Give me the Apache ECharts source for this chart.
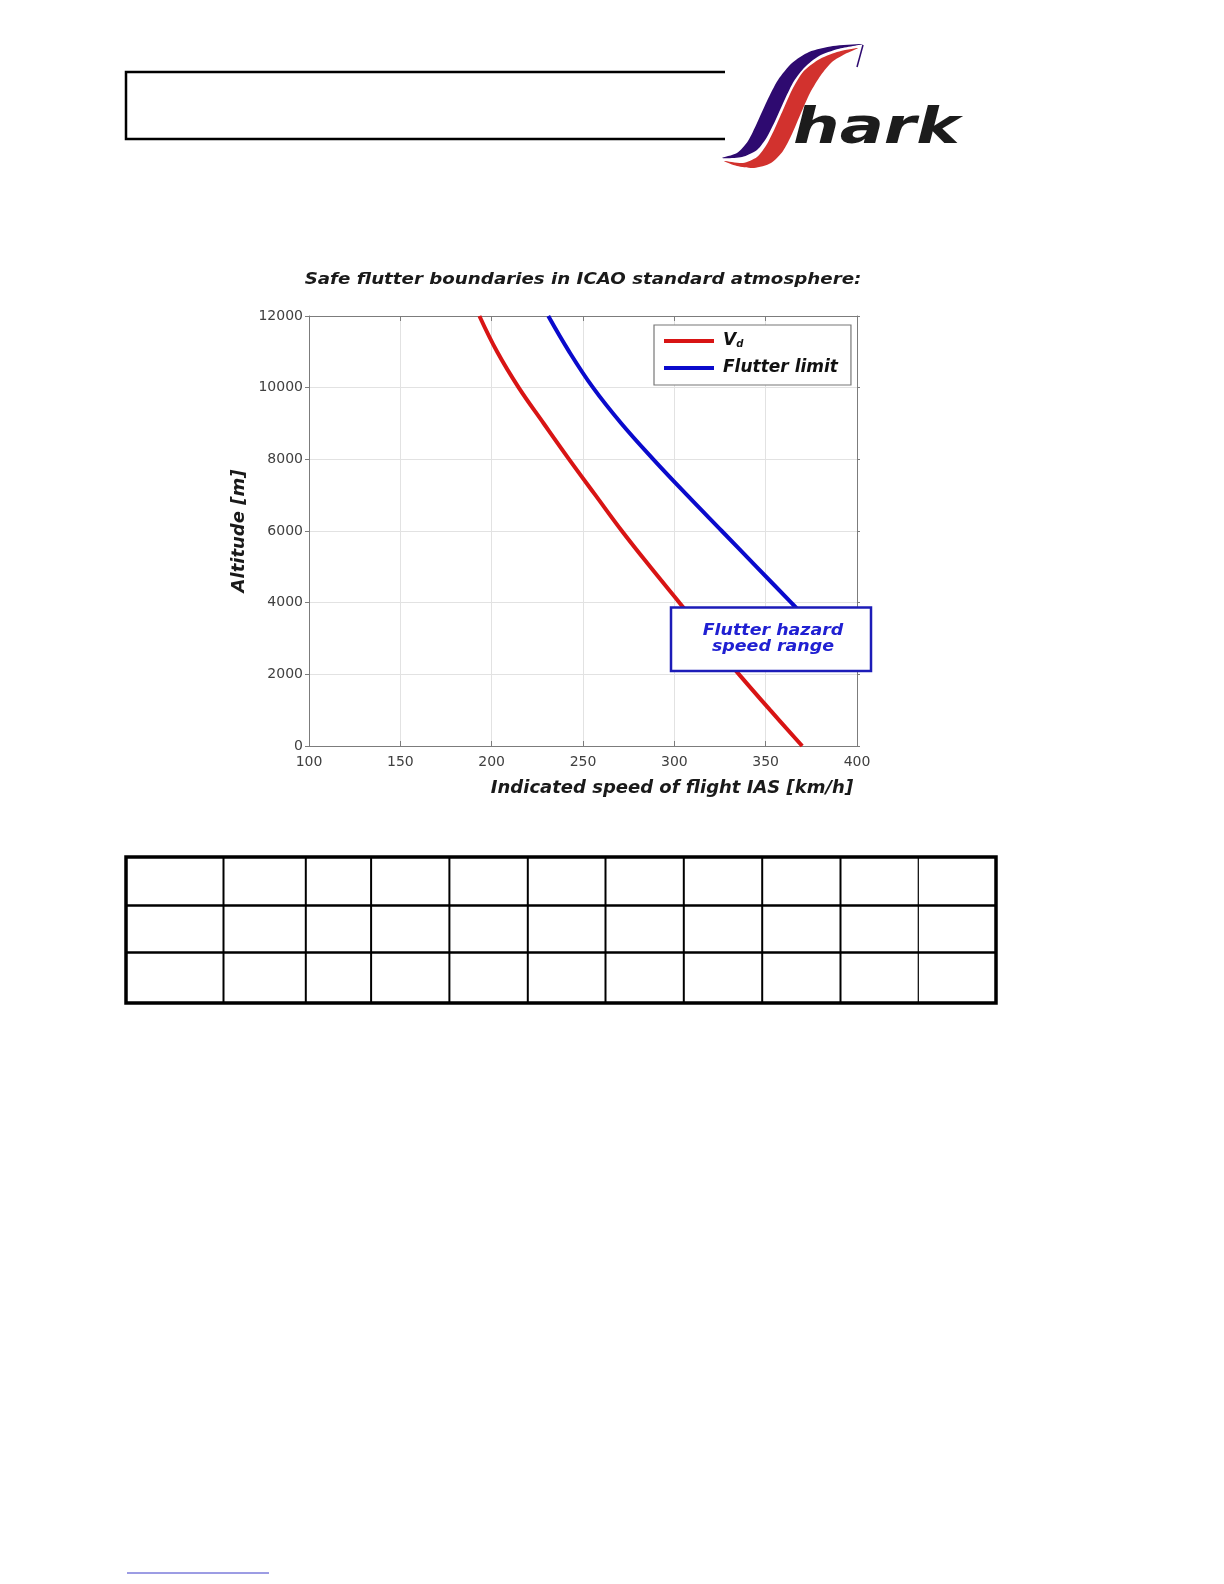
<!DOCTYPE html>
<html>
<head>
<meta charset="utf-8">
<title>Safe flutter boundaries</title>
<script src="https://cdn.jsdelivr.net/npm/echarts@6/dist/echarts.min.js"></script>
<style>
  html, body { margin: 0; padding: 0; background: #ffffff; overflow: hidden; }
  #chart { width: 1224px; height: 1584px; }
</style>
</head>
<body>
<div id="chart"></div>
<script>
// Design speed Vd (IAS, km/h) against altitude (m)
const vdAltitude = [0, 1000, 2000, 3000, 4000, 5000, 6000, 7000, 8000, 9000, 10000, 11000, 12000];
const vdSpeed = [370, 352.5, 335.4, 318.8, 302.8, 286.8, 271.3, 256.8, 242.4, 228.5, 214.8, 203, 193.3];

// Flutter limit (IAS, km/h) against altitude (m)
const flutterAltitude = [3800, 4000, 5000, 6000, 7000, 8000, 9000, 10000, 11000, 12000];
const flutterSpeed = [367.8, 364, 345, 326, 307, 288.5, 271, 255.5, 242.5, 231];

const seriesNames = ['Vd', 'Flutter limit'];
const chartTitle = 'Safe flutter boundaries in ICAO standard atmosphere:';
const xAxisName = 'Indicated speed of flight IAS [km/h]';
const yAxisName = 'Altitude [m]';
const hazardLines = ['Flutter hazard', 'speed range'];

const speedRange = { min: 100, max: 400, step: 50 };
const altitudeRange = { min: 0, max: 12000, step: 2000 };

const toPairs = (alts, speeds) => alts.map((a, i) => [speeds[i], a]);

const font = (size) => 'italic bold ' + size + 'px "DejaVu Sans"';

const axisGray = '#7c7c7c';
const gridGray = '#e2e2e2';
const labelGray = '#404040';

// Logo swoosh outlines (page pixels)
const swooshPurple = [
  [722, 158], [737, 153], [748, 141], [757, 123], [767, 101], [778, 80], [792, 63], [809, 52], [833, 46], [863, 44],
  [838, 49], [819, 56], [805, 67], [794, 81], [785, 99], [776, 119], [767, 137], [757, 150], [742, 157]
];
const swooshRed = [
  [724, 161], [743, 163], [757, 157], [767, 144], [775, 128], [783, 110], [792, 90], [803, 72], [818, 60], [837, 52], [858, 48],
  [845, 54], [832, 62], [821, 75], [810, 93], [801, 113], [792, 134], [783, 151], [771, 163], [754, 168], [737, 166]
];

const chart = echarts.init(document.getElementById('chart'), null, { renderer: 'canvas', width: 1224, height: 1584 });

// Page furniture: header frame, logo, footnote rule
const headerAndPage = [
  {
    type: 'polyline', z: 1,
    shape: { points: [[725, 72], [126, 72], [126, 139], [725, 139]] },
    style: { stroke: '#000', lineWidth: 2.5, fill: null }
  },
  {
    type: 'polygon', z: 1,
    shape: { points: swooshPurple, smooth: 0.25 },
    style: { fill: '#2e0a70' }
  },
  {
    type: 'line', z: 1,
    shape: { x1: 863, y1: 45, x2: 857, y2: 67 },
    style: { stroke: '#2e0a70', lineWidth: 1.5 }
  },
  {
    type: 'polygon', z: 1,
    shape: { points: swooshRed, smooth: 0.25 },
    style: { fill: '#d2322e' }
  },
  {
    type: 'text', z: 2, x: 793, y: 105, scaleX: 1.31,
    style: { x: 0, y: 0, text: 'hark', font: 'italic bold 50px "DejaVu Sans"', fill: '#1c1c1c', textAlign: 'left', textVerticalAlign: 'top' }
  },
  {
    type: 'line', z: 1,
    shape: { x1: 127, y1: 1573, x2: 269, y2: 1573 },
    style: { stroke: '#3a3ac8', lineWidth: 1 }
  }
];

// Table grid below the chart
const tableCols = [223.5, 305.8, 371.1, 449.4, 527.8, 605.5, 683.8, 762.2, 840.5, 918.3];
const tableRows = [905.5, 952.5];
const tableBox = { x: 126, y: 857, w: 870, h: 146 };
const tableElements = [
  {
    type: 'rect', z: 1,
    shape: { x: tableBox.x, y: tableBox.y, width: tableBox.w, height: tableBox.h },
    style: { fill: null, stroke: '#000', lineWidth: 3.5 }
  }
];
tableRows.forEach((y) => tableElements.push({
  type: 'line', z: 1,
  shape: { x1: tableBox.x, y1: y, x2: tableBox.x + tableBox.w, y2: y },
  style: { stroke: '#000', lineWidth: 2.5 }
}));
tableCols.forEach((x, i) => tableElements.push({
  type: 'line', z: 1,
  shape: { x1: x, y1: tableBox.y, x2: x, y2: tableBox.y + tableBox.h },
  style: { stroke: '#000', lineWidth: i === tableCols.length - 1 ? 1.2 : 2 }
}));

// Annotation box marking the flutter hazard speed range
const hazardElements = [
  {
    type: 'rect', z: 100,
    shape: { x: 671, y: 607.5, width: 200, height: 63.5 },
    style: { fill: '#ffffff', stroke: '#1c1cb8', lineWidth: 2.5 }
  },
  {
    type: 'text', z: 101, x: 773, y: 631, scaleX: 1.09,
    style: { x: 0, y: 0, text: hazardLines[0], font: font(16), fill: '#2020d2', textAlign: 'center', textVerticalAlign: 'middle' }
  },
  {
    type: 'text', z: 101, x: 773, y: 647, scaleX: 1.09,
    style: { x: 0, y: 0, text: hazardLines[1], font: font(16), fill: '#2020d2', textAlign: 'center', textVerticalAlign: 'middle' }
  }
];

const titleElement = {
  type: 'text', z: 5, x: 583, y: 279.5, scaleX: 1.14,
  style: { x: 0, y: 0, text: chartTitle, font: font(16), fill: '#1a1a1a', textAlign: 'center', textVerticalAlign: 'middle' }
};

const plainNumber = (v) => String(v);

const option = {
  animation: false,
  backgroundColor: '#ffffff',
  grid: { left: 309, top: 316, width: 548, height: 430, containLabel: false },
  legend: {
    orient: 'vertical',
    left: 654, top: 325,
    padding: [7, 13, 8, 10],
    itemWidth: 50, itemHeight: 4, itemGap: 9,
    icon: 'rect',
    backgroundColor: '#ffffff',
    borderColor: '#777777', borderWidth: 1.2,
    data: seriesNames,
    formatter: (name) => (name === 'Vd' ? '{v|V}{s|d}' : name),
    textStyle: {
      fontFamily: 'DejaVu Sans', fontStyle: 'italic', fontWeight: 'bold', fontSize: 17,
      color: '#111111', lineHeight: 18, padding: [0, 0, 0, 4],
      rich: {
        v: { fontFamily: 'DejaVu Sans', fontStyle: 'italic', fontWeight: 'bold', fontSize: 17, color: '#111111', lineHeight: 18 },
        s: { fontFamily: 'DejaVu Sans', fontStyle: 'italic', fontWeight: 'bold', fontSize: 10, color: '#111111', lineHeight: 18, padding: [7, 0, 0, 0] }
      }
    }
  },
  xAxis: [
    {
      type: 'value', position: 'bottom',
      min: speedRange.min, max: speedRange.max, interval: speedRange.step,
      name: xAxisName, nameLocation: 'middle', nameGap: 33.5,
      nameTextStyle: { fontFamily: 'DejaVu Sans', fontStyle: 'italic', fontWeight: 'bold', fontSize: 18, color: '#1a1a1a', lineHeight: 18, padding: [0, 0, 0, 178] },
      axisLine: { show: true, lineStyle: { color: axisGray, width: 1 } },
      axisTick: { show: true, inside: true, length: 5, lineStyle: { color: axisGray } },
      axisLabel: { fontFamily: 'DejaVu Sans', fontSize: 14, color: labelGray, margin: 9, formatter: plainNumber },
      splitLine: { show: true, lineStyle: { color: gridGray, width: 1 } }
    },
    {
      type: 'value', position: 'top',
      min: speedRange.min, max: speedRange.max, interval: speedRange.step,
      axisLine: { show: true, onZero: false, lineStyle: { color: axisGray, width: 1 } },
      axisTick: { show: true, inside: true, length: 5, lineStyle: { color: axisGray } },
      axisLabel: { show: false },
      splitLine: { show: false }
    }
  ],
  yAxis: [
    {
      type: 'value', position: 'left',
      min: altitudeRange.min, max: altitudeRange.max, interval: altitudeRange.step,
      name: yAxisName, nameLocation: 'middle', nameGap: 61, nameRotate: 90,
      nameTextStyle: { fontFamily: 'DejaVu Sans', fontStyle: 'italic', fontWeight: 'bold', fontSize: 18, color: '#1a1a1a', lineHeight: 18 },
      axisLine: { show: true, onZero: false, lineStyle: { color: axisGray, width: 1 } },
      axisTick: { show: true, inside: false, length: 4, lineStyle: { color: axisGray } },
      axisLabel: { fontFamily: 'DejaVu Sans', fontSize: 14, color: labelGray, margin: 6, formatter: plainNumber },
      splitLine: { show: true, lineStyle: { color: gridGray, width: 1 } }
    },
    {
      type: 'value', position: 'right',
      min: altitudeRange.min, max: altitudeRange.max, interval: altitudeRange.step,
      axisLine: { show: true, onZero: false, lineStyle: { color: axisGray, width: 1 } },
      axisTick: { show: true, inside: false, length: 3, lineStyle: { color: axisGray } },
      axisLabel: { show: false },
      splitLine: { show: false }
    }
  ],
  series: [
    {
      name: seriesNames[0], type: 'line',
      xAxisIndex: 0, yAxisIndex: 0,
      data: toPairs(vdAltitude, vdSpeed),
      smooth: 0.4, showSymbol: false, symbol: 'none',
      lineStyle: { color: '#d81414', width: 4 },
      itemStyle: { color: '#d81414' },
      z: 3
    },
    {
      name: seriesNames[1], type: 'line',
      xAxisIndex: 0, yAxisIndex: 0,
      data: toPairs(flutterAltitude, flutterSpeed),
      smooth: 0.4, showSymbol: false, symbol: 'none',
      lineStyle: { color: '#0a0acc', width: 4 },
      itemStyle: { color: '#0a0acc' },
      z: 3
    }
  ],
  graphic: { elements: [titleElement].concat(headerAndPage, tableElements, hazardElements) }
};

chart.setOption(option);
</script>
</body>
</html>
